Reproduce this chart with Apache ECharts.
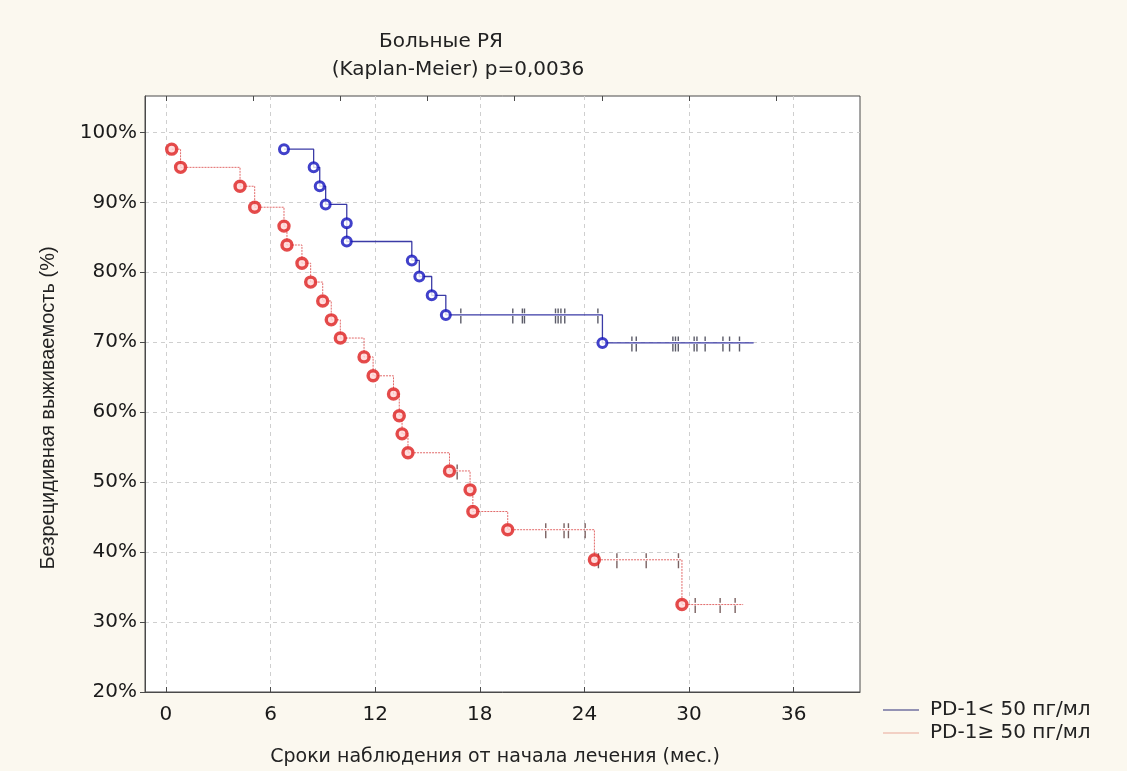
<!DOCTYPE html>
<html>
<head>
<meta charset="utf-8">
<title>Больные РЯ</title>
<script src="https://cdn.jsdelivr.net/npm/echarts@6/dist/echarts.min.js"></script>
<style>
html, body { margin: 0; padding: 0; background: #fbf8ef; }
#kmChart { width: 1127px; height: 771px; }
</style>
</head>
<body>
<div id="kmChart"></div>
<script>
// месяцы наблюдения / выживаемость (%)
var blueEventTime = [6.77, 8.47, 8.82, 9.16, 10.37, 10.37, 14.1, 14.53, 15.24, 16.05, 25.03];
var blueEventSurv = [97.6, 95.0, 92.3, 89.7, 87.0, 84.4, 81.7, 79.4, 76.7, 73.9, 69.9];
var blueCensorTime = [16.91, 19.89, 20.44, 20.56, 22.34, 22.49, 22.65, 22.87, 24.77,
  26.72, 26.97, 29.07, 29.22, 29.38, 30.29, 30.45, 30.92, 31.94, 32.32, 32.89];
var blueLastTime = 33.7;

var redEventTime = [0.33, 0.84, 4.25, 5.09, 6.77, 6.94, 7.8, 8.3, 8.99, 9.48, 10.0, 11.36,
  11.88, 13.05, 13.38, 13.54, 13.88, 16.26, 17.44, 17.6, 19.6, 24.57, 29.59];
var redEventSurv = [97.6, 95.0, 92.3, 89.3, 86.6, 83.9, 81.3, 78.6, 75.9, 73.2, 70.6, 67.9,
  65.2, 62.6, 59.5, 56.9, 54.2, 51.6, 48.9, 45.8, 43.2, 38.9, 32.5];
var redCensorTime = [16.7, 21.78, 22.83, 23.08, 24.04, 24.8, 25.86, 27.54, 29.39, 30.35, 31.78, 32.64];
var redLastTime = 33.1;

var xTicks = [0, 6, 12, 18, 24, 30, 36];
var xTopTicks = [0, 5, 10, 15, 20, 25, 30, 35];
var yTicks = [20, 30, 40, 50, 60, 70, 80, 90, 100];

var seriesNames = ['PD-1< 50 пг/мл', 'PD-1≥ 50 пг/мл'];

function stepData(times, surv, lastTime) {
  var out = [];
  for (var i = 0; i < times.length; i++) out.push([times[i], surv[i]]);
  out.push([lastTime, surv[surv.length - 1]]);
  return out;
}
function eventData(times, surv) {
  return times.map(function (t, i) { return [t, surv[i]]; });
}
// цензурированные: уровень кривой на момент выбывания
function censorData(censor, times, surv) {
  return censor.map(function (c) {
    var s = 100;
    for (var i = 0; i < times.length; i++) if (times[i] <= c) s = surv[i];
    return [c, s];
  });
}

var censorSymbol = 'path://M0,0h1v5h-1z M0,8h1v8h-1z';
var font = '"DejaVu Sans", Arial, sans-serif';
var fontNarrow = '"Liberation Sans", Arial, sans-serif';

var mychart = echarts.init(document.getElementById('kmChart'));
var option = {
  backgroundColor: '#fbf8ef',
  animation: false,
  textStyle: { fontFamily: font },
  grid: {
    left: 145, right: 267, top: 96, bottom: 79,
    show: true, backgroundColor: '#ffffff', borderColor: '#4a4a4a', borderWidth: 1
  },
  graphic: [
    { type: 'text', x: 441, y: 42, style: { text: 'Больные РЯ', font: '20px ' + font, fill: '#222', align: 'center', verticalAlign: 'middle' } },
    { type: 'text', x: 458, y: 70, style: { text: '(Kaplan-Meier) p=0,0036', font: '20px ' + font, fill: '#222', align: 'center', verticalAlign: 'middle' } },
    { type: 'text', x: 495, y: 757, style: { text: 'Сроки наблюдения от начала лечения (мес.)', font: '19px ' + font, fill: '#222', align: 'center', verticalAlign: 'middle' } },
    { type: 'text', x: 48, y: 408, rotation: Math.PI / 2, style: { text: 'Безрецидивная выживаемость (%)', font: '20px ' + fontNarrow, fill: '#222', align: 'center', verticalAlign: 'middle' } }
  ],
  legend: {
    orient: 'vertical',
    left: 878, top: 695,
    itemWidth: 36, itemHeight: 12, itemGap: 3,
    textStyle: { fontSize: 20, color: '#222', fontFamily: font, padding: [0, 0, 0, 6] },
    data: [
      { name: seriesNames[0], icon: 'path://M0,0h36v1h-36z', itemStyle: { color: '#2e2e7a' } },
      { name: seriesNames[1], icon: 'path://M0,0h36v1h-36z', itemStyle: { color: '#eaa89a' } }
    ]
  },
  xAxis: [
    {
      type: 'value', position: 'bottom',
      min: -1.2, max: 39.8,
      axisLine: { show: true, onZero: false, lineStyle: { color: '#4a4a4a' } },
      axisTick: { show: true, inside: true, length: 5, customValues: xTicks, lineStyle: { color: '#4a4a4a' } },
      axisLabel: { customValues: xTicks, fontSize: 20, color: '#1a1a1a', margin: 13, fontFamily: font },
      splitLine: { show: true, lineStyle: { type: [4, 4], color: '#cfcfcf' } }
    },
    {
      type: 'value', position: 'top',
      min: -1.2, max: 39.8,
      axisLine: { show: false },
      axisTick: { show: true, inside: true, length: 5, customValues: xTopTicks, lineStyle: { color: '#4a4a4a' } },
      axisLabel: { show: false },
      splitLine: { show: false }
    }
  ],
  yAxis: {
    type: 'value',
    min: 20, max: 105.2,
    axisLine: { show: true, onZero: false, lineStyle: { color: '#4a4a4a' } },
    axisTick: { show: true, length: 5, customValues: yTicks, lineStyle: { color: '#4a4a4a' } },
    axisLabel: { customValues: yTicks, formatter: '{value}%', fontSize: 20, color: '#1a1a1a', margin: 8, fontFamily: font },
    splitLine: { show: true, lineStyle: { type: [4, 4], color: '#cfcfcf' } }
  },
  series: [
    {
      name: seriesNames[0], type: 'line', step: 'end', symbol: 'none', z: 2,
      lineStyle: { color: '#3b3ba6', width: 1.3 },
      itemStyle: { color: '#2e2e7a' },
      data: stepData(blueEventTime, blueEventSurv, blueLastTime)
    },
    {
      name: seriesNames[1], type: 'line', step: 'end', symbol: 'none', z: 2,
      lineStyle: { color: '#e26a6a', width: 1, type: [2, 1] },
      itemStyle: { color: '#eaa89a' },
      data: stepData(redEventTime, redEventSurv, redLastTime)
    },
    {
      type: 'scatter', symbol: 'circle', symbolSize: 9, z: 4,
      itemStyle: { color: '#ffffff', borderColor: '#1212bd', borderWidth: 3 },
      data: eventData(blueEventTime, blueEventSurv)
    },
    {
      type: 'scatter', symbol: 'circle', symbolSize: 10, z: 4,
      itemStyle: { color: '#ffd6d6', borderColor: '#dd1f1f', borderWidth: 3.4 },
      data: eventData(redEventTime, redEventSurv)
    },
    {
      type: 'scatter', symbol: censorSymbol, symbolSize: [1.4, 15], symbolOffset: [0, 1], z: 3,
      itemStyle: { color: '#333344' },
      data: censorData(blueCensorTime, blueEventTime, blueEventSurv)
    },
    {
      type: 'scatter', symbol: censorSymbol, symbolSize: [1.4, 15], symbolOffset: [0, 1], z: 3,
      itemStyle: { color: '#5a3a3a' },
      data: censorData(redCensorTime, redEventTime, redEventSurv)
    }
  ]
};
mychart.setOption(option);
</script>
</body>
</html>
